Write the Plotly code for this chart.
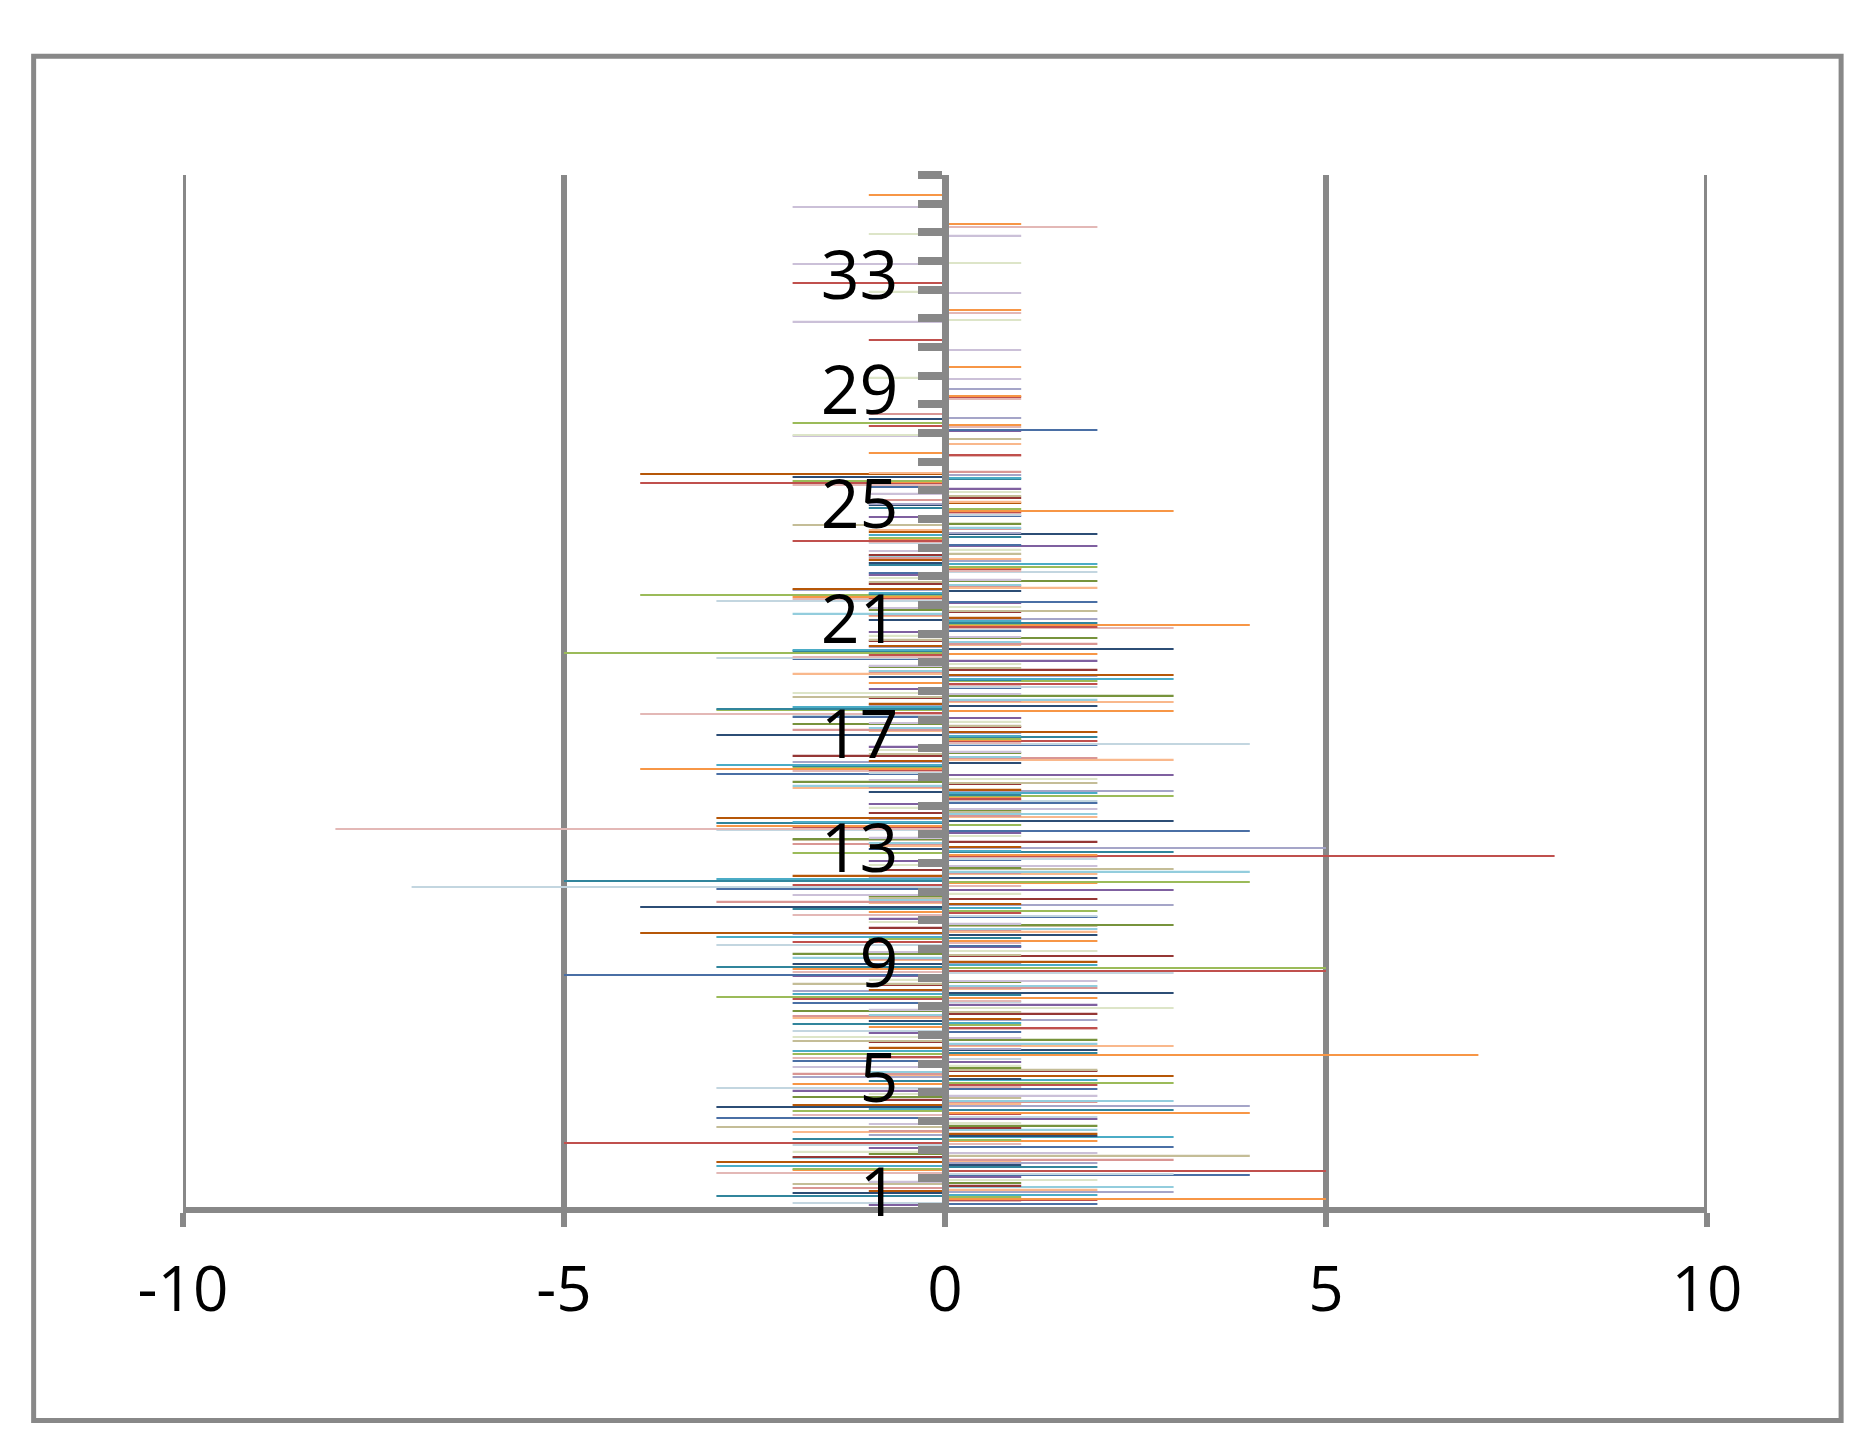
import plotly.graph_objects as go

categories = [str(i) for i in range(1, 37)]
tick_labels = [c if (int(c) - 1) % 4 == 0 else "" for c in categories]

s01 = [-1, 1, -1, 2, -2, 1, -1, 2, -2, 1, -1, 3, -1, 1, -1, 3, -1, 1, -1, 2, -1, 1, -1, 2, -1, 1, 0, 1, 0, 0, 0, 0, 0, 0, 0, 0]
s02 = [2, 4, 3, -3, 2, -2, 1, -2, -5, 1, 2, -3, 1, 4, 2, -3, 2, -2, 1, -2, 1, 2, -1, 1, 1, -1, 0, 2, 0, 0, 0, 0, 0, 0, 0, 0]
s03 = [-2, 3, -2, 2, -3, 1, -2, 1, 3, -3, 2, -7, 2, -3, 2, -1, 4, -2, 2, -3, 1, -3, 2, -1, 1, 0, 0, 0, 0, 0, 0, 0, 0, 0, 0, 0]
s04 = [1, -3, 1, -2, 1, -2, 2, 1, -2, 1, -2, 1, 2, -8, 1, -2, 1, -4, 1, -2, 3, -2, 1, -1, 1, -2, 1, 1, 1, 0, 0, 1, 0, 0, 2, 0]
s05 = [2, 5, -5, 1, 2, -1, 2, -2, 5, -2, 1, -2, 8, -2, 1, -1, 2, -1, 2, -1, 2, -1, 1, -2, 1, -4, 1, -1, 1, 0, -1, 0, -2, 0, 0, 0]
s06 = [5, -2, 2, 4, -2, 7, -1, 2, -2, 2, -1, 2, 2, -3, 1, -4, 1, 3, -1, 2, 4, -2, 1, -1, 3, -1, -1, 1, 1, 1, 0, 1, 0, 0, 1, -1]
s07 = [1, -2, 1, -2, 3, -2, 1, -3, 5, -1, 2, 4, -2, 1, 3, -2, 1, -3, 2, -5, 1, -4, 2, -1, 1, -2, 0, -2, 0, 0, 0, 0, 0, 0, 0, 0]
s08 = [-3, 2, -2, 3, -1, 2, -2, 1, -3, 1, -2, -5, 3, -3, 1, -2, 2, -3, 1, -2, 2, -1, -1, 1, -1, 1, 0, 0, 0, 0, 0, 0, 0, 0, 0, 0]
s09 = [2, -3, 3, -1, 2, -2, 1, -2, 2, -3, 1, -3, 1, -2, 2, -3, 1, -2, 3, -2, 1, -1, 2, -1, 0, 1, 0, 0, 0, 0, 0, 0, 0, 0, 0, 0]
s10 = [-2, 1, 2, -3, 1, 2, -1, 3, -2, 2, -4, 2, -1, 3, -1, 1, -3, 2, -1, 3, -1, 1, -1, 2, -1, -2, 0, -1, 0, 0, 0, 0, 0, 0, 0, 0]
s11 = [3, 2, -1, 4, -2, 1, 2, -2, 1, -2, 3, -1, 5, -1, 3, -2, 1, -1, 2, -1, 2, -2, 1, 1, -1, 1, 0, 1, 1, 0, 0, 0, 0, 0, 0, 0]
s12 = [-1, -3, 2, -2, 3, -1, 1, -1, 2, -4, 1, -2, 1, -3, 1, -1, 2, -1, 3, -1, 1, -2, -1, -1, 1, -4, 0, 0, 0, 0, 0, 0, 0, 0, 0, 0]
s13 = [2, 1, -2, 1, -1, 3, -2, 1, -1, 2, -1, 2, -1, 2, -2, 3, -1, 3, -2, 1, -1, 2, 1, -1, 1, -1, 1, 0, 0, 0, 0, 0, 0, 0, 0, 0]
s14 = [-2, 3, -1, 2, -2, 1, -2, 2, -1, 1, -3, 1, -2, 1, -1, 2, -2, 1, -1, 2, -1, 1, -1, 1, -1, 1, 0, -1, 0, 0, 0, 0, 0, 0, 0, 0]
s15 = [3, -2, 2, 3, -1, 2, -1, 2, -2, 2, -1, 4, -1, 2, -2, 1, -1, 2, -1, 1, -2, 1, -1, 1, 0, 0, 0, 0, 0, 0, 0, 0, 0, 0, 0, 0]
s16 = [1, -2, 1, -1, 2, -1, 2, -1, 3, -1, 2, -1, 2, -1, 1, -2, 1, -1, 2, -1, 1, -1, -1, 0, 1, 0, 0, 0, 0, 0, 0, 0, 0, 0, 0, 0]
s17 = [-2, 4, -3, 1, 2, -2, 1, -2, 1, 2, -1, 3, -2, 1, 2, -1, 1, -2, 1, -1, 2, -1, 1, -2, 1, 0, 1, 0, 0, 0, 0, 0, 0, 0, 0, 0]
s18 = [1, -1, 2, -2, 1, 2, -2, 1, -2, 3, -1, 1, -2, 1, -2, 1, -2, 3, -1, 2, -1, 2, 0, 1, 0, 0, 0, 0, 0, 0, 0, 0, 0, 0, 0, 0]
s19 = [-1, 2, -1, 2, -2, 1, -1, 2, -1, 1, -2, 2, -1, 2, -1, 1, -1, 1, -1, 1, -1, 1, -1, 0, -1, 0, -2, 0, 1, 1, -2, 1, -2, 1, -2, 0]
s20 = [2, -2, 1, -1, 1, -2, 3, -1, 2, -1, 1, -1, 1, -1, 2, -1, 1, -2, 1, -1, 1, -1, 1, 0, 1, 0, -2, 0, -1, 0, 1, -1, 1, -1, 0, 0]

series = [s01, s02, s03, s04, s05, s06, s07, s08, s09, s10,
          s11, s12, s13, s14, s15, s16, s17, s18, s19, s20]
colors = ["#7f60a0", "#4a6fa5", "#c3d6e0", "#e3b8b6", "#c0504d", "#f79646",
          "#9bbb59", "#31859c", "#4bacc6", "#2c4d75", "#a5a5c8", "#b65708",
          "#f9b88c", "#d99694", "#93cddd", "#953735", "#c4bd97", "#77933c",
          "#cbc0d8", "#dde5c8"]

fig = go.Figure()
for i, vals in enumerate(series):
    fig.add_trace(go.Bar(y=categories, x=vals, orientation="h", name=f"S{i+1}",
                         marker=dict(color=colors[i], line=dict(width=0))))

# gridlines at the range edges (plotly hides those)
edge_lines = [dict(type="line", xref="x", yref="paper", x0=v, x1=v, y0=0, y1=1,
                   line=dict(color="#888888", width=6), layer="below")
              for v in (-10, 10)]

fig.update_layout(
    width=1857, height=1441, barmode="group", bargap=0.08, bargroupgap=0,
    showlegend=False, plot_bgcolor="white", paper_bgcolor="white",
    margin=dict(l=175, r=158, t=167, b=242),
    font=dict(family="Open Sans", size=62, color="black"),
    shapes=[dict(type="rect", xref="paper", yref="paper", x0=-0.098, x1=1.088,
                 y0=-0.207, y1=1.115, line=dict(color="#888888", width=5))] + edge_lines,
)
fig.update_xaxes(range=[-10, 10], tickvals=[-10, -5, 0, 5, 10],
                 ticktext=["-10", "-5", "0", "5", "10"],
                 showgrid=True, gridcolor="#888888", gridwidth=6, zeroline=False,
                 showline=True, linecolor="#888888", linewidth=6,
                 ticks="outside", ticklen=14, tickwidth=6, tickcolor="#888888",
                 ticklabelstandoff=10)
fig.update_yaxes(type="category", categoryorder="array", categoryarray=categories,
                 tickvals=categories, ticktext=tick_labels,
                 anchor="free", position=0.5, showline=True, linecolor="#888888",
                 linewidth=7, ticks="outside", tickson="boundaries", ticklen=24,
                 tickwidth=8, tickcolor="#888888", showgrid=False,
                 ticklabelstandoff=30, tickfont=dict(size=68))

fig.write_html("out.html")
